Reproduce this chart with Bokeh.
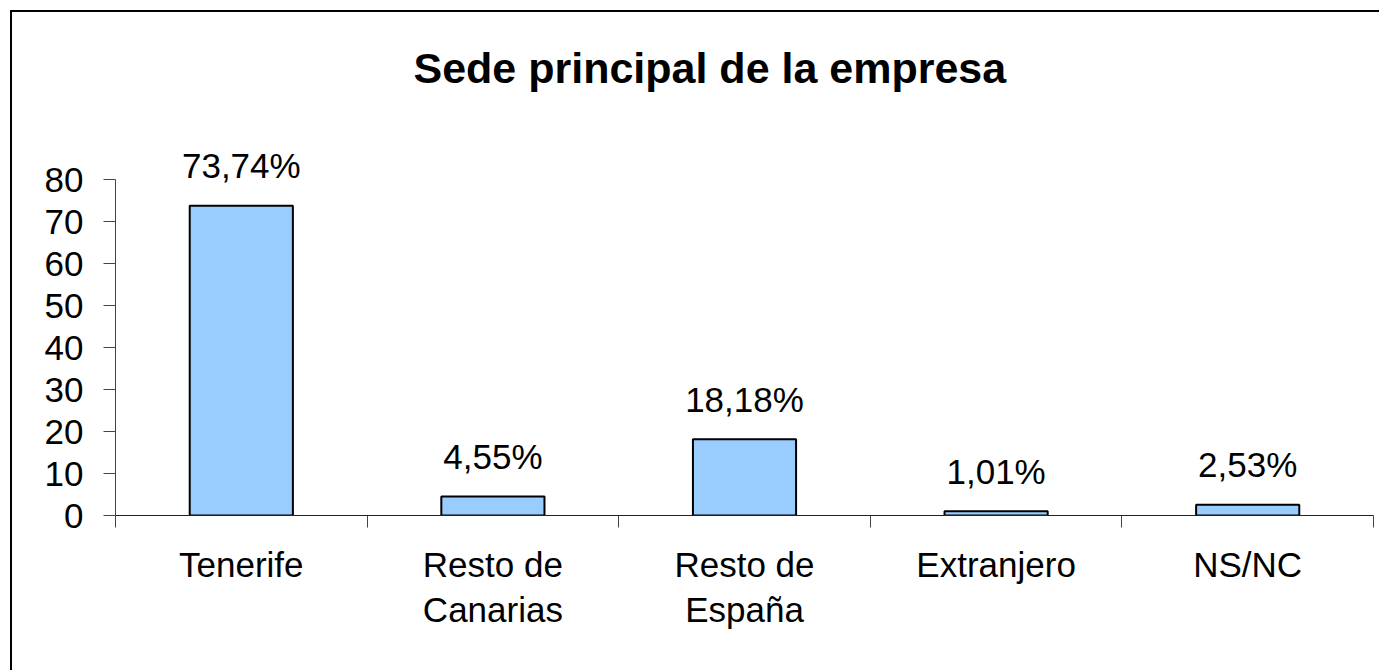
from bokeh.plotting import figure
from bokeh.models import Range1d, FixedTicker, LinearAxis, ColumnDataSource
from bokeh.core.properties import value
from bokeh.embed import file_html
from bokeh.resources import INLINE

# ---- data ----
categories = ["Tenerife", "Resto de\nCanarias", "Resto de\nEspaña", "Extranjero", "NS/NC"]
values = [73.74, 4.55, 18.18, 1.01, 2.53]
value_labels = ["73,74%", "4,55%", "18,18%", "1,01%", "2,53%"]
y_ticks = [0, 10, 20, 30, 40, 50, 60, 70, 80]
title_text = "Sede principal de la empresa"

FONT = "Liberation Sans"
W, H = 1371, 660
LEFT, RIGHT, TOP, BOTTOM = 103, 10, 103, 157
px_per_unit = 4.2
y_end = (H - TOP - BOTTOM) / px_per_unit

n = len(categories)
centers = [i + 0.5 for i in range(n)]
bounds_ticks = list(range(n + 1))

src = ColumnDataSource(dict(x=centers, v=values, lab=value_labels))

p = figure(width=W, height=H, output_backend="svg", toolbar_location=None,
           x_range=Range1d(0, n), y_range=Range1d(0, y_end),
           x_axis_type=None, y_axis_type=None,
           min_border_left=LEFT, min_border_right=RIGHT,
           min_border_top=TOP, min_border_bottom=BOTTOM)
p.outline_line_color = None
p.background_fill_color = "white"
p.border_fill_color = "white"
# outer chart frame: only its top and left edges fall inside the window
p.styles = {"margin-left": "12px", "margin-top": "12px",
            "box-shadow": "-2px -2px 0px 0px black"}

p.title.text = title_text
p.title.align = "left"
p.title.offset = 298
p.title.standoff = 48
p.title.text_font = FONT
p.title.text_font_size = "43px"
p.title.text_font_style = "bold"
p.title.text_color = "black"

yaxis = LinearAxis(ticker=FixedTicker(ticks=y_ticks), bounds=(0, 80),
                   major_tick_out=12, major_tick_in=0,
                   minor_tick_out=0, minor_tick_in=0,
                   major_label_standoff=20,
                   axis_line_color="#444444", major_tick_line_color="#444444",
                   major_label_text_font=FONT, major_label_text_font_size="35px",
                   major_label_text_color="black")
p.add_layout(yaxis, "left")

xaxis = LinearAxis(ticker=FixedTicker(ticks=centers, minor_ticks=bounds_ticks),
                   major_tick_out=0, major_tick_in=0,
                   minor_tick_out=12, minor_tick_in=0,
                   axis_line_color="#222222", minor_tick_line_color="#444444",
                   major_label_overrides={c: cat for c, cat in zip(centers, categories)},
                   major_label_standoff=17,
                   major_label_text_font=FONT, major_label_text_font_size="35px",
                   major_label_text_line_height=1.17,
                   major_label_text_color="black")
p.add_layout(xaxis, "below")

p.vbar(x="x", top="v", width=0.41, source=src,
       fill_color="#99CCFF", line_color="black", line_width=2)

p.text(x="x", y="v", text="lab", source=src, y_offset=-40,
       text_align="center", text_baseline="alphabetic",
       text_font=value(FONT), text_font_size="35px", text_color="black")

open("out.html", "w").write(file_html(p, INLINE))
